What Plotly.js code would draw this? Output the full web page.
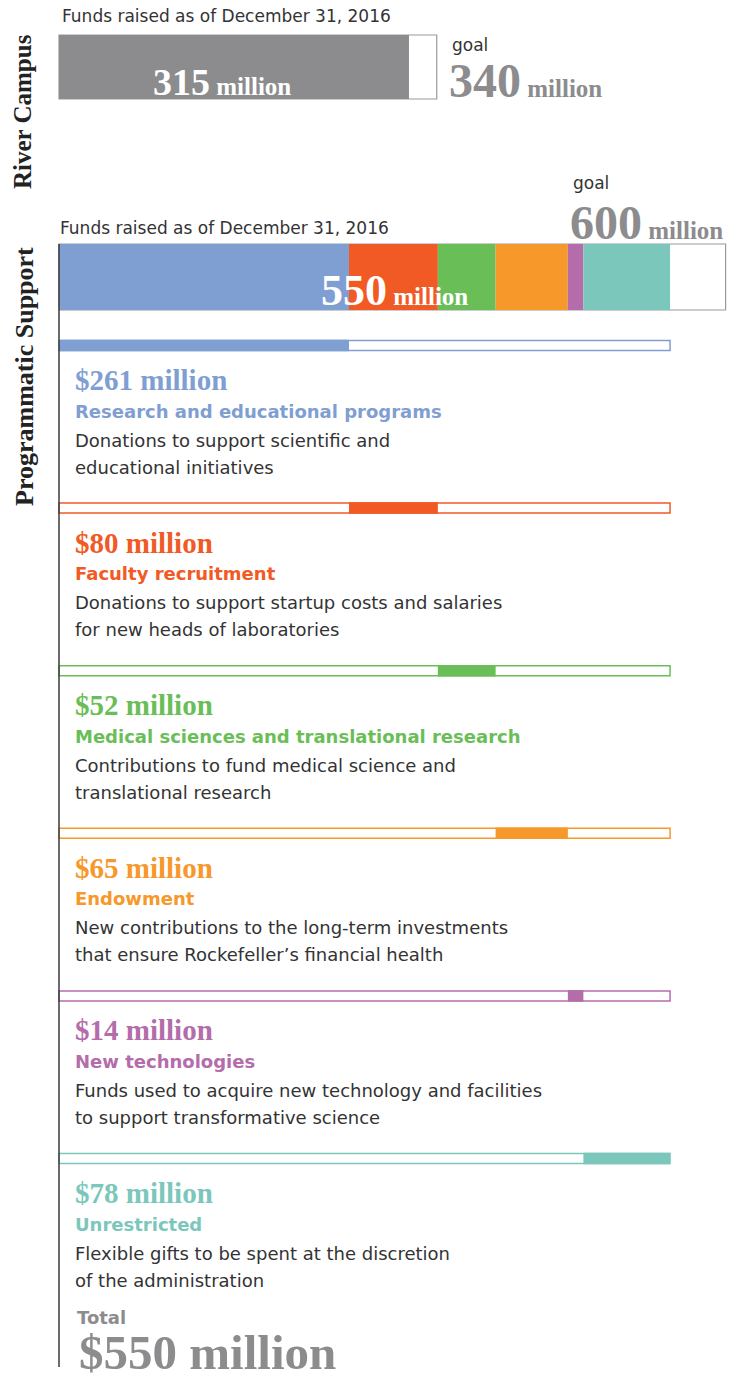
<!DOCTYPE html>
<html>
<head>
<meta charset="utf-8">
<script src="https://cdn.plot.ly/plotly-3.0.1.min.js"></script>
<style>
  html, body { margin: 0; padding: 0; background: #fff; }
  #chart { width: 744px; height: 1373px; }
</style>
</head>
<body>
<div id="chart"></div>
<script>
// ---------- data ----------
const riverRaised = 315;
const riverGoal = 340;
const programGoal = 600;
const categories = [
  'Research and educational programs',
  'Faculty recruitment',
  'Medical sciences and translational research',
  'Endowment',
  'New technologies',
  'Unrestricted'
];
const amounts = [261, 80, 52, 65, 14, 78];
const descLine1 = [
  'Donations to support scientific and',
  'Donations to support startup costs and salaries',
  'Contributions to fund medical science and',
  'New contributions to the long-term investments',
  'Funds used to acquire new technology and facilities',
  'Flexible gifts to be spent at the discretion'
];
const descLine2 = [
  'educational initiatives',
  'for new heads of laboratories',
  'translational research',
  'that ensure Rockefeller\u2019s financial health',
  'to support transformative science',
  'of the administration'
];
const fundsLabel = 'Funds raised as of December 31, 2016';

// ---------- styles / layout helpers ----------
const colors = ['#7f9ed2', '#f15a24', '#69be58', '#f7982a', '#b46caa', '#7bc7bb'];
const GREY = '#8c8c8e';
const DARK = '#333333';
const SANS = 'DejaVu Sans, Liberation Sans, Arial, sans-serif';
const SERIF = 'Liberation Serif, Times New Roman, serif';
const W = 744, H = 1373, X0 = 59, S = 1.111;   // pixels per million
const px = p => (p - X0) / S;                    // pixel column -> data x

const programRaised = amounts.reduce((a, b) => a + b, 0);
const starts = [];
amounts.reduce((acc, v, i) => { starts[i] = acc; return acc + v; }, 0);

const riverY = 67, riverH = 64;
const progY = 277, progH = 66;
const rowY = categories.map((_, i) => 345.5 + i * 162.6);
const rowH = 10;

const traces = [
  // River campus goal outline
  { type: 'bar', orientation: 'h', y: [riverY], x: [riverGoal], base: [0], width: [riverH],
    marker: { color: '#ffffff', line: { color: '#9a9a9c', width: 1.2 } } },
  // River campus raised
  { type: 'bar', orientation: 'h', y: [riverY], x: [riverRaised], base: [0], width: [riverH],
    marker: { color: GREY, line: { width: 0 } } },
  // Programmatic goal outline
  { type: 'bar', orientation: 'h', y: [progY], x: [programGoal], base: [0], width: [progH],
    marker: { color: '#ffffff', line: { color: '#9a9a9c', width: 1.2 } } },
  // Programmatic stacked segments
  { type: 'bar', orientation: 'h', y: amounts.map(() => progY), x: amounts, base: starts,
    width: amounts.map(() => progH), marker: { color: colors, line: { width: 0 } } },
  // thin outline bars per category
  { type: 'bar', orientation: 'h', y: rowY, x: amounts.map(() => programRaised), base: amounts.map(() => 0),
    width: amounts.map(() => rowH), marker: { color: '#ffffff', line: { color: colors, width: 1.5 } } },
  // thin filled segments
  { type: 'bar', orientation: 'h', y: rowY, x: amounts, base: starts,
    width: amounts.map(() => rowH + 1.5), marker: { color: colors, line: { width: 0 } } }
];

const ann = [];
function add(text, xp, y, size, color, family, extra) {
  ann.push(Object.assign({
    text, x: px(xp), y, xref: 'x', yref: 'y', xanchor: 'left', yanchor: 'middle',
    showarrow: false, font: { size, color, family }
  }, extra || {}));
}
const big = (n, m, nsz, msz) =>
  '<b><span style="font-size:' + nsz + 'px">' + n + '</span><span style="font-size:' + msz + 'px"> ' + m + '</span></b>';

add(fundsLabel, 60, 16, 17, DARK, SANS);
add(big(riverRaised, 'million', 38, 25), 151, 82, 38, '#ffffff', SERIF);
add('goal', 450, 45, 17, DARK, SANS);
add(big(riverGoal, 'million', 48, 25), 447, 80, 48, GREY, SERIF);
add('goal', 571, 183, 17, DARK, SANS);
add(big(programGoal, 'million', 48, 25), 568, 222, 48, GREY, SERIF);
add(fundsLabel, 58, 228, 17, DARK, SANS);
add(big(programRaised, 'million', 44, 25), 319, 290, 44, '#ffffff', SERIF);

categories.forEach((c, i) => {
  const y0 = rowY[i];
  add('<b>$' + amounts[i] + ' million</b>', 73, y0 + 34.5, 29, colors[i], SERIF);
  add('<b>' + c + '</b>', 73, y0 + 65.5, 18, colors[i], SANS);
  add(descLine1[i], 73, y0 + 94.5, 18, DARK, SANS);
  add(descLine2[i], 73, y0 + 121.5, 18, DARK, SANS);
});

add('<b>Total</b>', 75, 1317, 18, GREY, SANS);
add('<b>$' + programRaised + ' million</b>', 77, 1352, 49, GREY, SERIF);

// rotated section titles
ann.push({ text: '<b>River Campus</b>', x: px(22), y: 112, xref: 'x', yref: 'y',
  textangle: -90, showarrow: false, font: { size: 25, color: '#222', family: SERIF } });
ann.push({ text: '<b>Programmatic Support</b>', x: px(24), y: 377, xref: 'x', yref: 'y',
  textangle: -90, showarrow: false, font: { size: 26, color: '#222', family: SERIF } });

const layout = {
  width: W, height: H,
  margin: { l: 0, r: 0, t: 0, b: 0, pad: 0 },
  paper_bgcolor: '#ffffff', plot_bgcolor: '#ffffff',
  showlegend: false, barmode: 'overlay',
  xaxis: { range: [px(0), px(W)], visible: false, fixedrange: true },
  yaxis: { range: [H, 0], visible: false, fixedrange: true },
  shapes: [
    { type: 'line', xref: 'x', yref: 'y', x0: 0, x1: 0, y0: 244, y1: 1367,
      line: { color: '#3a3a3a', width: 1.5 } }
  ],
  annotations: ann
};

Plotly.newPlot('chart', traces, layout, { staticPlot: true, displayModeBar: false });
</script>
</body>
</html>
